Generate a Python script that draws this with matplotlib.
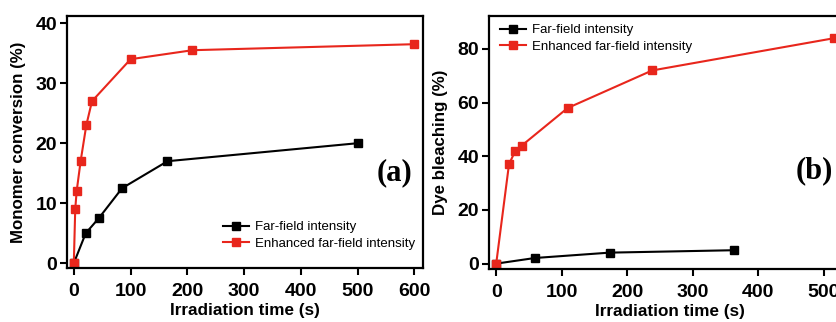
import matplotlib.pyplot as plt

plt.rcParams['font.family'] = ['Liberation Sans', 'DejaVu Sans']

# panel (a): monomer conversion
a_far_t = [0, 21, 44, 85, 165, 500]
a_far_v = [0, 5, 7.5, 12.5, 17, 20]
a_enh_t = [0, 2.5, 5, 12, 22, 32, 100, 209, 600]
a_enh_v = [0, 9, 12, 17, 23, 27, 34, 35.5, 36.5]

# panel (b): dye bleaching
b_far_t = [0, 59, 173, 363]
b_far_v = [0, 2.1, 4.1, 5]
b_enh_t = [0, 19.5, 29, 39, 109, 238, 515]
b_enh_v = [0, 37, 42, 44, 58, 72, 84]

red = '#e8261c'
W, H = 836, 322

fig = plt.figure(figsize=(W / 100, H / 100), dpi=100)

def px(l, t, r, b):
    return [l / W, 1 - b / H, (r - l) / W, (b - t) / H]

ax1 = fig.add_axes(px(67, 16, 423, 268))
ax2 = fig.add_axes(px(489, 16, 850, 269))

def style(ax):
    for s in ax.spines.values():
        s.set_linewidth(1.6)
    ax.tick_params(direction='out', length=5, width=1.5, labelsize=14)
    ax.tick_params(axis='x', pad=6)
    ax.tick_params(axis='y', pad=2)
    for lab in ax.get_xticklabels() + ax.get_yticklabels():
        lab.set_fontweight('bold')

kw = dict(marker='s', markersize=6, linewidth=1.5)
leg_kw = dict(frameon=False, fontsize=9.5, handlelength=2.0, handletextpad=0.4,
              labelspacing=0.35, borderpad=0, borderaxespad=0)

ax1.plot(a_far_t, a_far_v, color='black', label='Far-field intensity', **kw)
ax1.plot(a_enh_t, a_enh_v, color=red, label='Enhanced far-field intensity', **kw)
ax1.set_xlim(-12, 615)
ax1.set_ylim(-0.8, 41.2)
ax1.set_xticks([0, 100, 200, 300, 400, 500, 600])
ax1.set_yticks([0, 10, 20, 30, 40])
style(ax1)
ax1.set_xlabel('Irradiation time (s)', fontsize=12.3, fontweight='bold', labelpad=2)
ax1.set_ylabel('Monomer conversion (%)', fontsize=12.2, fontweight='bold', labelpad=7)
ax1.legend(loc='upper left', bbox_to_anchor=((223 - 67) / 356, (268 - 221) / 252), **leg_kw)
ax1.text(0.969, 0.38, '(a)', transform=ax1.transAxes, ha='right', va='center',
         fontsize=22, fontweight='bold', family='Liberation Serif')

ax2.plot(b_far_t, b_far_v, color='black', label='Far-field intensity', **kw)
ax2.plot(b_enh_t, b_enh_v, color=red, label='Enhanced far-field intensity', **kw)
ax2.set_xlim(-11, 540)
ax2.set_ylim(-2, 92.3)
ax2.set_xticks([0, 100, 200, 300, 400, 500])
ax2.set_yticks([0, 20, 40, 60, 80])
style(ax2)
ax2.set_xlabel('Irradiation time (s)', fontsize=12.3, fontweight='bold', labelpad=2)
ax2.set_ylabel('Dye bleaching (%)', fontsize=12.2, fontweight='bold', labelpad=7)
ax2.legend(loc='upper left', bbox_to_anchor=((500 - 489) / 361, (269 - 24) / 253), **leg_kw)
ax2.text(0.953, 0.39, '(b)', transform=ax2.transAxes, ha='right', va='center',
         fontsize=22, fontweight='bold', family='Liberation Serif')

fig.savefig('out.png', dpi=100)
